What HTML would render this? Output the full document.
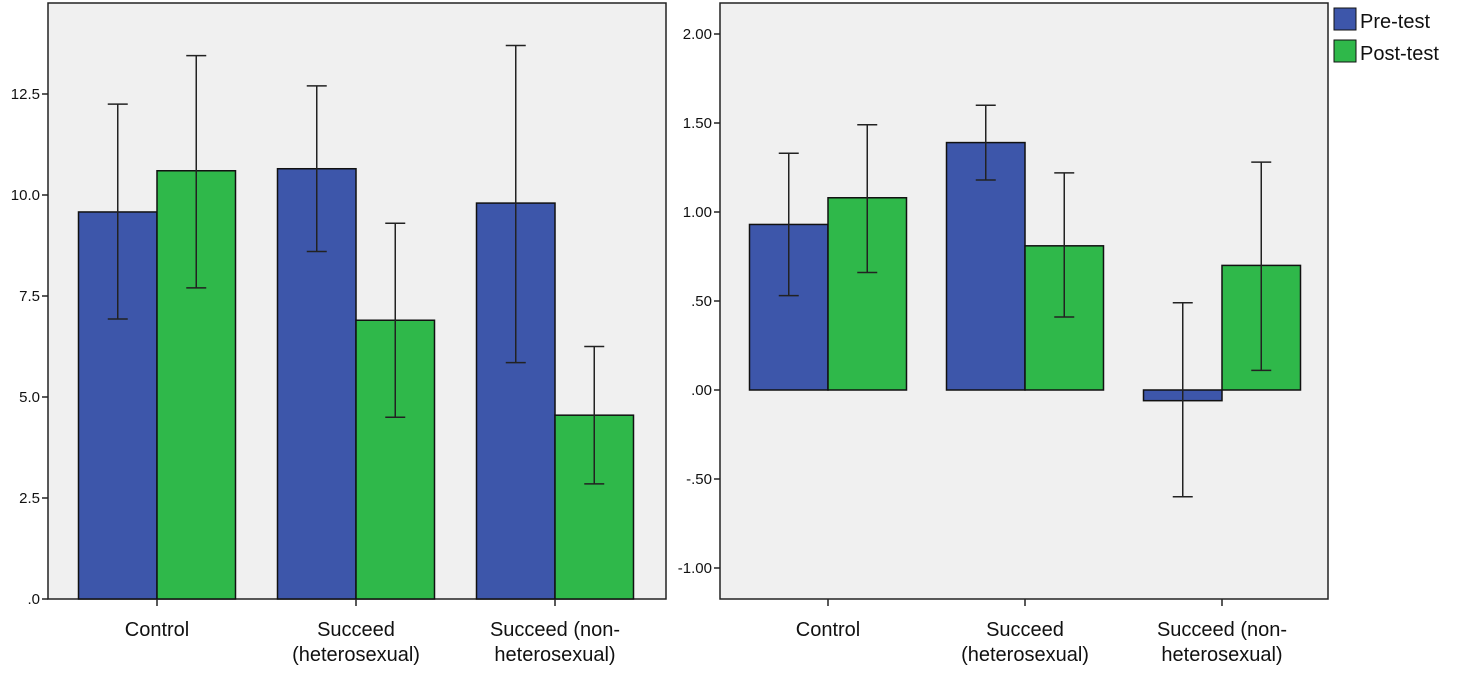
<!DOCTYPE html>
<html><head><meta charset="utf-8"><style>
body{margin:0;background:#fff;width:1459px;height:669px;overflow:hidden}
svg text{font-family:"Liberation Sans",Arial,sans-serif;fill:#111}
</style></head><body>
<svg id="c" width="1459" height="669" xmlns="http://www.w3.org/2000/svg"></svg>
<script>
const categories=[["Control"],["Succeed","(heterosexual)"],["Succeed (non-","heterosexual)"]];
const seriesNames=["Pre-test","Post-test"];
const leftPre=[9.58,10.65,9.8];
const leftPreLo=[6.93,8.6,5.85];
const leftPreHi=[12.25,12.7,13.7];
const leftPost=[10.6,6.9,4.55];
const leftPostLo=[7.7,4.5,2.85];
const leftPostHi=[13.45,9.3,6.25];
const leftTicks=[0,2.5,5,7.5,10,12.5];
const leftTickLabels=[".0","2.5","5.0","7.5","10.0","12.5"];
const rightPre=[0.93,1.39,-0.06];
const rightPreLo=[0.53,1.18,-0.60];
const rightPreHi=[1.33,1.60,0.49];
const rightPost=[1.08,0.81,0.70];
const rightPostLo=[0.66,0.41,0.11];
const rightPostHi=[1.49,1.22,1.28];
const rightTicks=[-1,-0.5,0,0.5,1,1.5,2];
const rightTickLabels=["-1.00","-.50",".00",".50","1.00","1.50","2.00"];
const colors=["#3d56aa","#2fb84a"];
const svg=document.getElementById('c');
const NS="http://www.w3.org/2000/svg";
function mk(tag,at,parent){const e=document.createElementNS(NS,tag);for(const k in at)e.setAttribute(k,at[k]);(parent||svg).appendChild(e);return e;}
function panel(o){
  const g=mk('g',{});
  
  
  const y=v=>o.y0-(v-o.base)*o.ppu;
  const r=mk('rect',{x:o.x0,y:3,width:o.x1-o.x0,height:596,fill:'#f0f0f0',stroke:'#222','stroke-width':1.5},g);
  
  
  o.ticks.forEach((t,i)=>{
    mk('line',{x1:o.x0-6,x2:o.x0,y1:y(t),y2:y(t),stroke:'#222','stroke-width':1.5},g);
    const tx=mk('text',{x:o.x0-8,y:y(t)+5,'text-anchor':'end','font-size':15},g);
    tx.textContent=o.labels[i];
    
    
  });
  const bw=78.5;
  const sets=[[o.pre,o.preLo,o.preHi],[o.post,o.postLo,o.postHi]];
  categories.forEach((c,i)=>{
    const cx=o.cx0+i*o.step;
    sets.forEach((s,j)=>{
      const x=cx-bw+j*bw;
      const v=s[0][i];
      const y1=Math.min(y(v),y(0)),h=Math.abs(y(v)-y(0));
      const b=mk('rect',{x:x,y:y1,width:bw,height:h,fill:colors[j],stroke:'#111','stroke-width':1.5},g);
      
      
      const mx=x+bw/2;
      const eb=mk('g',{stroke:'#222','stroke-width':1.5},g);
      
      
      mk('line',{x1:mx,x2:mx,y1:y(s[1][i]),y2:y(s[2][i])},eb);
      mk('line',{x1:mx-10,x2:mx+10,y1:y(s[1][i]),y2:y(s[1][i])},eb);
      mk('line',{x1:mx-10,x2:mx+10,y1:y(s[2][i]),y2:y(s[2][i])},eb);
    });
    mk('line',{x1:cx,x2:cx,y1:599,y2:606,stroke:'#222','stroke-width':1.5},g);
    c.forEach((ln,k)=>{
      const t=mk('text',{x:cx,y:636+k*25,'text-anchor':'middle','font-size':20},g);
      t.textContent=ln;
      
      
    });
  });
}
panel({name:'left-panel',x0:48,x1:666,y0:599,base:0,ppu:40.4,cx0:157,step:199,ticks:leftTicks,labels:leftTickLabels,pre:leftPre,preLo:leftPreLo,preHi:leftPreHi,post:leftPost,postLo:leftPostLo,postHi:leftPostHi});
panel({name:'right-panel',x0:720,x1:1328,y0:390,base:0,ppu:178,cx0:828,step:197,ticks:rightTicks,labels:rightTickLabels,pre:rightPre,preLo:rightPreLo,preHi:rightPreHi,post:rightPost,postLo:rightPostLo,postHi:rightPostHi});
seriesNames.forEach((n,i)=>{
  const g=mk('g',{});
  
  
  mk('rect',{x:1334,y:8+i*32,width:22,height:22,fill:colors[i],stroke:'#111','stroke-width':1},g);
  const t=mk('text',{x:1360,y:28+i*32,'font-size':20},g);
  t.textContent=n;
});
</script>
</body></html>
